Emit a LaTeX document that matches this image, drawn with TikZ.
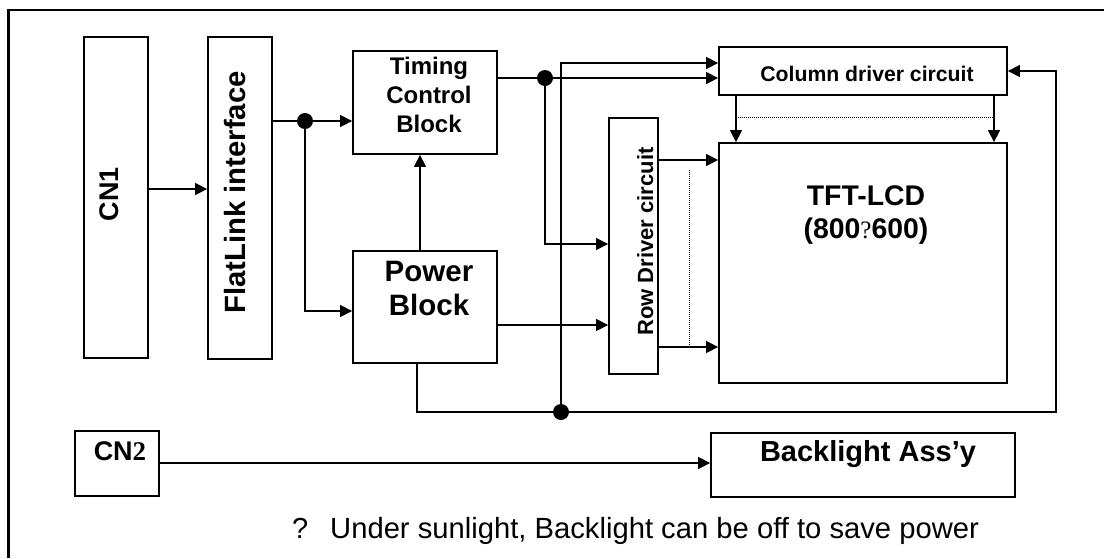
\documentclass[tikz,border=0pt]{standalone}
\usepackage{fontspec}
\setmainfont{Liberation Sans}
\newfontfamily\serifx{Liberation Serif}
\usetikzlibrary{arrows.meta}
\begin{document}
\begin{tikzpicture}[x=1pt,y=-1pt,
  box/.style={draw, line width=1.8pt, inner sep=0pt, rectangle},
  conn/.style={line width=1.4pt},
  arr/.style={conn, -{Triangle[length=12pt,width=12pt]}},
  dotted line/.style={line width=0.8pt, dash pattern=on 1pt off 1pt},
  jdot/.style={circle, fill, inner sep=0pt, minimum size=16pt},
  lbl/.style={inner sep=0pt},
]
\useasboundingbox (0,0) rectangle (1104,558);
\fill[white] (0,0) rectangle (1104,558);
\draw[line width=2.8pt] (8.5,558) -- (8.5,10) -- (1104,10);

% boxes
\node[box, minimum width=64pt, minimum height=321pt] (cn1) at (116,197.5) {};
\node[box, minimum width=64pt, minimum height=322pt] (flat) at (240,198) {};
\node[box, minimum width=144pt, minimum height=103pt] (tim) at (425,102.5) {};
\node[box, minimum width=144pt, minimum height=112pt] (pow) at (425,307) {};
\node[box, minimum width=288pt, minimum height=48pt] (col) at (863,71) {};
\node[box, minimum width=288pt, minimum height=240pt] (tft) at (863,263) {};
\node[box, minimum width=49pt, minimum height=256pt] (row) at (633.5,246) {};
\node[box, minimum width=84pt, minimum height=65pt] (cn2) at (117,463.5) {};
\node[box, minimum width=304pt, minimum height=64pt] (bl) at (863,465) {};

% texts
\node[lbl, rotate=90, anchor=base, font=\bfseries\fontsize{27}{30}\selectfont] (cn1t) at (118,194) {CN1};
\node[lbl, rotate=90, anchor=base, font=\bfseries\fontsize{29.3}{32}\selectfont] (flatt) at (245.5,192.5) {FlatLink interface};
\node[lbl, align=center, font=\bfseries\fontsize{24}{29}\selectfont] (timt) at (429,95) {Timing\\Control\\Block};
\node[lbl, align=center, font=\bfseries\fontsize{29.5}{34}\selectfont] (powt) at (429,288) {Power\\Block};
\node[lbl, anchor=base, font=\bfseries\fontsize{21.2}{24}\selectfont] (colt) at (867,81.5) {Column driver circuit};
\node[lbl, rotate=90, anchor=base, font=\bfseries\fontsize{22}{24}\selectfont] (rowt) at (653,241.5) {Row Driver circuit};
\node[lbl, anchor=base, font=\bfseries\fontsize{28.4}{32}\selectfont] (tft1) at (866,205) {TFT-LCD};
\node[lbl, anchor=base, font=\bfseries\fontsize{28.4}{32}\selectfont] (tft2) at (866,238) {(800{\mdseries\serifx\fontsize{25}{28}\selectfont ?}600)};
\node[lbl, anchor=base, font=\bfseries\fontsize{29}{32}\selectfont] (blt) at (868,461) {Backlight Ass’y};
\node[lbl, anchor=base, font=\bfseries\fontsize{27}{30}\selectfont] (cn2t) at (120,460) {CN{\serifx 2}};
\node[lbl, anchor=base west, font=\fontsize{29}{32}\selectfont] (q) at (292,538) {?};
\node[lbl, anchor=base west, font=\fontsize{29.2}{32}\selectfont] (foot) at (330,538) {Under sunlight, Backlight can be off to save power};

% junctions
\node[jdot] (j1) at (305,121) {};
\node[jdot] (j2) at (545,78) {};
\node[jdot] (j3) at (561,412) {};
\coordinate (c1) at (305,311);
\coordinate (c2) at (545,244);
\coordinate (c3) at (417,412);
\coordinate (c4) at (1056,412);
\coordinate (c5) at (1056,71);
\coordinate (c6) at (561,63);

% connectors
\draw[arr] (cn1.east |- 0,189) -- (flat.west |- 0,189);
\draw[conn] (flat.east |- j1) -- (j1);
\draw[arr] (j1) -- (tim.west |- j1);
\draw[arr] (j1) -- (c1) -- (pow.west |- c1);
\draw[arr] (pow.north -| 420,0) -- (tim.south -| 420,0);
\draw[conn] (tim.east |- j2) -- (j2);
\draw[arr] (j2) -- (col.west |- j2);
\draw[arr] (j2) -- (c2) -- (row.west |- c2);
\draw[arr] (pow.east |- 0,325) -- (row.west |- 0,325);
\draw[conn] (pow.south -| c3) -- (c3) -- (j3);
\draw[arr] (j3) -- (c4) -- (c5) -- (col.east |- c5);
\draw[arr] (j3) -- (c6) -- (col.west |- c6);
\draw[arr] (row.east |- 0,160) -- (tft.west |- 0,160);
\draw[arr] (row.east |- 0,347) -- (tft.west |- 0,347);
\draw[dotted line] (689,170) -- (689,347);
\draw[arr] (col.south -| 736,0) -- (tft.north -| 736,0);
\draw[arr] (col.south -| 994,0) -- (tft.north -| 994,0);
\draw[dotted line] (736,117) -- (994,117);
\draw[arr] (cn2.east |- 0,463) -- (bl.west |- 0,463);
\end{tikzpicture}
\end{document}
